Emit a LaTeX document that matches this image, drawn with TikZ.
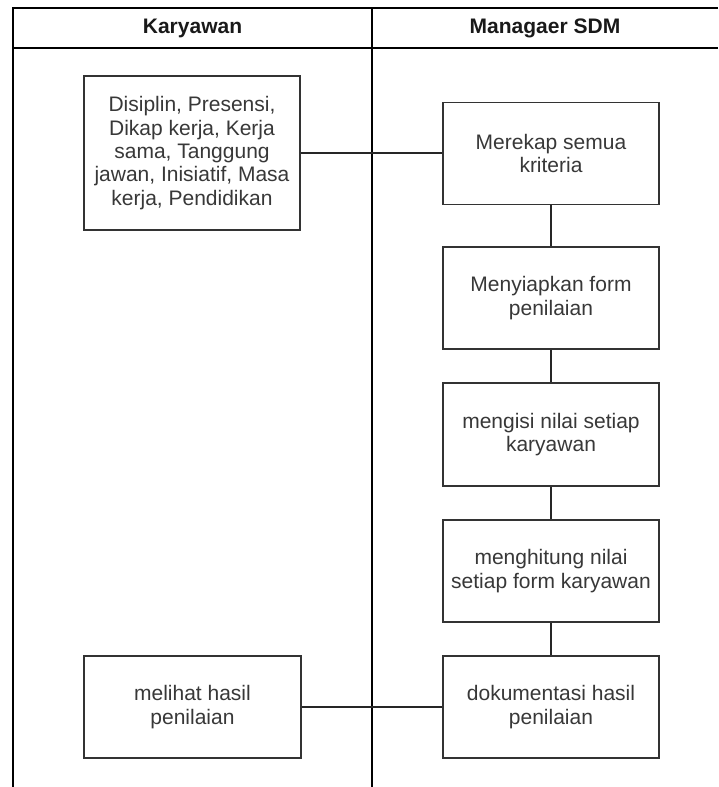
\documentclass[tikz,border=0pt]{standalone}
\usepackage{fontspec}
\setmainfont{Liberation Sans}
\begin{document}
\begin{tikzpicture}[x=1pt,y=-1pt,
  frame/.style={line width=1.5pt,black},
  box/.style={draw=black!80,line width=1.3pt,fill=white,minimum width=216pt,inner sep=0pt,
    align=center,text=black!78,font=\fontsize{21}{23.3}\selectfont},
  hdr/.style={font=\fontsize{21}{23.3}\selectfont\bfseries,text=black!90,anchor=center},
  conn/.style={line width=1.3pt,black!85}]
\useasboundingbox (0,0) rectangle (718,787);
% swimlane frame
\draw[frame] (13,787) -- (13,8) -- (718,8);
\draw[frame] (13,48) -- (718,48);
\draw[frame] (372,8) -- (372,787);
\node[hdr] (h1) at (192.5,28) {Karyawan};
\node[hdr] (h2) at (545,28) {Managaer SDM};
% boxes
\node[box,minimum height=154pt] (b1) at (192,153) {Disiplin, Presensi,\\Dikap kerja, Kerja\\sama, Tanggung\\jawan, Inisiatif, Masa\\kerja, Pendidikan};
\node[box,minimum height=102pt] (m1) at (551,153.5) {Merekap semua\\kriteria};
\node[box,minimum height=102pt] (m2) at (551,298) {Menyiapkan form\\penilaian};
\node[box,minimum height=103pt] (m3) at (551,434.5) {mengisi nilai setiap\\karyawan};
\node[box,minimum height=102pt] (m4) at (551,571) {menghitung nilai\\setiap form karyawan};
\node[box,minimum height=102pt] (m5) at (551,707) {dokumentasi hasil\\penilaian};
\node[box,minimum height=102pt,minimum width=217pt] (l2) at (192.5,707) {melihat hasil\\penilaian};
% connectors
\draw[conn] (b1.east) -- (b1.east -| m1.west);
\draw[conn] (m1.south) -- (m2.north);
\draw[conn] (m2.south) -- (m3.north);
\draw[conn] (m3.south) -- (m4.north);
\draw[conn] (m4.south) -- (m5.north);
\draw[conn] (l2.east) -- (m5.west);
\end{tikzpicture}
\end{document}
